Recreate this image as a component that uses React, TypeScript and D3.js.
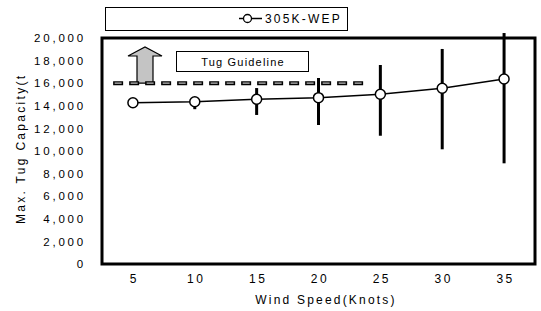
import React, { useEffect, useRef } from "react";
import * as d3 from "d3";

// wind speeds (knots) and max tug capacity
const windSpeeds = [5, 10, 15, 20, 25, 30, 35];
const meanCapacity = [14270, 14360, 14580, 14720, 15020, 15550, 16370];
const lowCapacity = [14270, 13700, 13190, 12300, 11350, 10150, 8910];
const highCapacity = [14270, 14360, 15570, 16460, 17610, 19030, 20440];
const yTicks = [0, 2000, 4000, 6000, 8000, 10000, 12000, 14000, 16000, 18000, 20000];
const guidelineValue = 16000;
const guidelineRange = [3.4, 24];
const seriesName = "305K-WEP";

const width = 541,
  height = 311,
  margin = { top: 38, right: 6, bottom: 48, left: 102 };

const font = "'Liberation Sans', Arial, sans-serif";

const App: React.FC = () => {
  const ref = useRef<SVGSVGElement | null>(null);

  useEffect(() => {
    const svg = d3.select(ref.current);
    svg.selectAll("*").remove();

    const x = d3
      .scaleLinear()
      .domain([2.5, 37.5])
      .range([margin.left, width - margin.right]);

    const y = d3
      .scaleLinear()
      .domain([0, 20000])
      .range([height - margin.bottom + 1, margin.top]);

    const data = windSpeeds.map((w, i) => ({
      w,
      v: meanCapacity[i],
      lo: lowCapacity[i],
      hi: highCapacity[i],
    }));

    // legend box
    svg
      .append("rect")
      .attr("x", 105.5)
      .attr("y", 7.5)
      .attr("width", 242)
      .attr("height", 23)
      .attr("fill", "white")
      .attr("stroke", "black");
    svg
      .append("line")
      .attr("x1", 239)
      .attr("x2", 262)
      .attr("y1", 18.5)
      .attr("y2", 18.5)
      .attr("stroke", "black")
      .attr("stroke-width", 1.5);
    svg
      .append("circle")
      .attr("cx", 247.5)
      .attr("cy", 18.5)
      .attr("r", 4)
      .attr("fill", "white")
      .attr("stroke", "black")
      .attr("stroke-width", 1.3);
    svg
      .append("text")
      .attr("x", 265)
      .attr("y", 23)
      .attr("font-family", font)
      .attr("font-size", 12)
      .attr("letter-spacing", 2.2)
      .text(seriesName);

    // y axis labels
    const yAxis = d3
      .axisLeft(y)
      .tickValues(yTicks)
      .tickSize(0)
      .tickPadding(0)
      .tickFormat((d) => d3.format(",")(d as number));
    svg
      .append("g")
      .attr("transform", `translate(86,0)`)
      .call(yAxis)
      .call((g) => g.select(".domain").remove())
      .call((g) =>
        g
          .selectAll("text")
          .attr("font-family", font)
          .attr("font-size", 11.5)
          .attr("letter-spacing", 2.8)
          .attr("fill", "black")
      );

    // x axis labels
    const xAxis = d3
      .axisBottom(x)
      .tickValues(windSpeeds)
      .tickSize(0)
      .tickPadding(0)
      .tickFormat((d) => String(d));
    svg
      .append("g")
      .attr("transform", `translate(1,274)`)
      .call(xAxis)
      .call((g) => g.select(".domain").remove())
      .call((g) =>
        g
          .selectAll("text")
          .attr("font-family", font)
          .attr("font-size", 12)
          .attr("letter-spacing", 2.5)
          .attr("fill", "black")
      );

    // axis titles
    svg
      .append("text")
      .attr("x", 326)
      .attr("y", 304)
      .attr("text-anchor", "middle")
      .attr("font-family", font)
      .attr("font-size", 12)
      .attr("letter-spacing", 2.2)
      .text("Wind Speed(Knots)");

    svg
      .append("clipPath")
      .attr("id", "ytitle-clip")
      .append("rect")
      .attr("x", 0)
      .attr("y", 73)
      .attr("width", 40)
      .attr("height", 235);
    svg
      .append("g")
      .attr("clip-path", "url(#ytitle-clip)")
      .append("text")
      .attr("transform", "translate(25,224) rotate(-90)")
      .attr("font-family", font)
      .attr("font-size", 12)
      .attr("letter-spacing", 2.3)
      .text("Max. Tug Capacity(ton)");

    // plot frame
    svg
      .append("rect")
      .attr("x", margin.left)
      .attr("y", margin.top)
      .attr("width", width - margin.left - margin.right)
      .attr("height", height - margin.bottom + 1 - margin.top)
      .attr("fill", "none")
      .attr("stroke", "black")
      .attr("stroke-width", 3);

    // guideline arrow
    const ax = 145,
      ay = y(guidelineValue);
    const arrow = d3.path();
    arrow.moveTo(ax - 8, ay);
    arrow.lineTo(ax - 8, 56);
    arrow.lineTo(ax - 17, 56);
    arrow.lineTo(ax, 47);
    arrow.lineTo(ax + 17, 56);
    arrow.lineTo(ax + 8, 56);
    arrow.lineTo(ax + 8, ay);
    arrow.closePath();
    svg
      .append("path")
      .attr("d", arrow.toString())
      .attr("fill", "#c4c4c4")
      .attr("stroke", "black")
      .attr("stroke-width", 1.2);

    // guideline dashed line (outlined dashes)
    const gx1 = x(guidelineRange[0]),
      gx2 = x(guidelineRange[1]),
      gy = y(guidelineValue);
    svg
      .append("line")
      .attr("x1", gx1)
      .attr("x2", gx2)
      .attr("y1", gy)
      .attr("y2", gy)
      .attr("stroke", "black")
      .attr("stroke-width", 4)
      .attr("stroke-dasharray", "10,6");
    svg
      .append("line")
      .attr("x1", gx1 + 1.5)
      .attr("x2", gx2)
      .attr("y1", gy)
      .attr("y2", gy)
      .attr("stroke", "#bdbdbd")
      .attr("stroke-width", 1.3)
      .attr("stroke-dasharray", "7,9");

    // guideline label
    svg
      .append("rect")
      .attr("x", 176.5)
      .attr("y", 51.5)
      .attr("width", 132)
      .attr("height", 20)
      .attr("fill", "white")
      .attr("stroke", "black");
    svg
      .append("text")
      .attr("x", 243)
      .attr("y", 65.5)
      .attr("text-anchor", "middle")
      .attr("font-family", font)
      .attr("font-size", 11)
      .attr("letter-spacing", 1.2)
      .text("Tug Guideline");

    // error bars
    svg
      .append("g")
      .selectAll("line")
      .data(data)
      .join("line")
      .attr("x1", (d) => x(d.w))
      .attr("x2", (d) => x(d.w))
      .attr("y1", (d) => y(d.lo))
      .attr("y2", (d) => y(d.hi))
      .attr("stroke", "black")
      .attr("stroke-width", 3);

    // mean line
    const line = d3
      .line<{ w: number; v: number }>()
      .x((d) => x(d.w))
      .y((d) => y(d.v));
    svg
      .append("path")
      .datum(data)
      .attr("d", line)
      .attr("fill", "none")
      .attr("stroke", "black")
      .attr("stroke-width", 1.5);

    svg
      .append("g")
      .selectAll("circle")
      .data(data)
      .join("circle")
      .attr("cx", (d) => x(d.w))
      .attr("cy", (d) => y(d.v))
      .attr("r", 5)
      .attr("fill", "white")
      .attr("stroke", "black")
      .attr("stroke-width", 1.5);
  }, []);

  return (
    <svg
      ref={ref}
      width={width}
      height={height}
      style={{ position: "absolute", left: 0, top: 0, background: "white" }}
    ></svg>
  );
};

export default App;
